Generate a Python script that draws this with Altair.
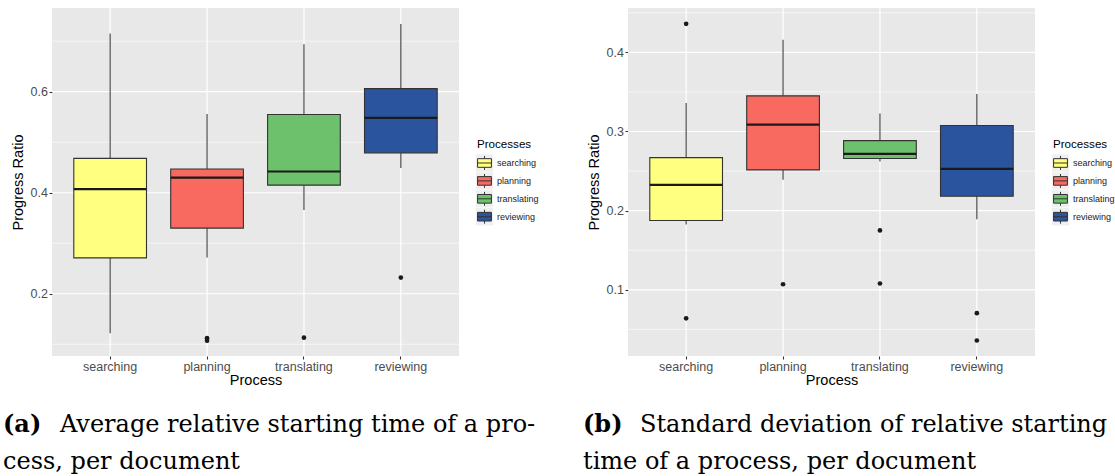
import altair as alt
import pandas as pd

# ---------------- data ----------------
categories = ["searching", "planning", "translating", "reviewing"]
fill_colors = ["#FFFF80", "#F8695F", "#6DC16C", "#2B549F"]

# panel (a): average relative starting time
a_whisker_low = [0.122, 0.272, 0.366, 0.449]
a_q1 = [0.271, 0.330, 0.415, 0.479]
a_median = [0.407, 0.430, 0.442, 0.548]
a_q3 = [0.468, 0.447, 0.555, 0.606]
a_whisker_high = [0.715, 0.556, 0.694, 0.734]
a_outlier_process = ["planning", "planning", "translating", "reviewing"]
a_outlier_value = [0.112, 0.107, 0.113, 0.232]
a_y_limits = [0.0768, 0.7657]
a_major_ticks = [0.2, 0.4, 0.6]
a_minor_ticks = [0.1, 0.3, 0.5, 0.7]

# panel (b): standard deviation of relative starting time
b_whisker_low = [0.1825, 0.239, 0.262, 0.189]
b_q1 = [0.1875, 0.2515, 0.2658, 0.2182]
b_median = [0.2326, 0.3087, 0.2717, 0.2528]
b_q3 = [0.267, 0.345, 0.2885, 0.3075]
b_whisker_high = [0.336, 0.416, 0.3226, 0.3475]
b_outlier_process = ["searching", "searching", "planning", "translating",
                     "translating", "reviewing", "reviewing"]
b_outlier_value = [0.436, 0.064, 0.107, 0.175, 0.108, 0.0705, 0.036]
b_y_limits = [0.0164, 0.456]
b_major_ticks = [0.1, 0.2, 0.3, 0.4]
b_minor_ticks = [0.05, 0.15, 0.25, 0.35, 0.45]

caption_a = ["(a)", "Average relative starting time of a pro-", "cess, per document"]
caption_b = ["(b)", "Standard deviation of relative starting", "time of a process, per document"]

legend_title = "Processes"
x_title = "Process"
y_title = "Progress Ratio"

# ---------------- styling ----------------
W, H = 407, 348
BOX_W = 72.7
SANS = "Liberation Sans"
SERIF = "DejaVu Serif"
KEY_PATH = ("M-0.8,-0.5L0.8,-0.5L0.8,0.5L-0.8,0.5Z M-0.8,0L0.8,0 "
            "M0,-0.5L0,-0.8 M0,0.5L0,0.8")

fill_scale = alt.Scale(domain=categories, range=fill_colors)


def panel(low, q1, med, q3, high, out_p, out_v, limits, major, minor,
          caption, cap_x0, cap_x1, anchor=False):
    boxes = pd.DataFrame(dict(process=categories, low=low, q1=q1,
                              median=med, q3=q3, high=high))
    outliers = pd.DataFrame(dict(process=out_p, value=out_v))
    major_df = pd.DataFrame(dict(v=major))
    minor_df = pd.DataFrame(dict(v=minor))

    yscale = alt.Scale(domain=limits, nice=False, zero=False)
    yaxis = alt.Axis(values=major, format=".1f", grid=False, domain=False,
                     tickColor="#333333", tickSize=3, tickWidth=1.1,
                     labelColor="#4D4D4D", labelFontSize=12.5, labelPadding=1.5,
                     labelFont=SANS, titleFont=SANS, titleFontSize=14.5,
                     titleFontWeight="normal", titleColor="#000000",
                     titlePadding=5)
    xscale = alt.Scale(type="band", domain=categories, paddingInner=0,
                       paddingOuter=0.1)
    xaxis = alt.Axis(labelAngle=0, domain=False, grid=False,
                     tickColor="#333333", tickSize=3, tickWidth=1.1,
                     labelColor="#4D4D4D", labelFontSize=12.5, labelPadding=1,
                     labelFont=SANS, titleFont=SANS, titleFontSize=14.5,
                     titleFontWeight="normal", titleColor="#000000",
                     titlePadding=1)
    X = alt.X("process:N", scale=xscale, axis=xaxis, title=x_title)

    def Y(field):
        return alt.Y(field, type="quantitative", scale=yscale, axis=yaxis,
                     title=y_title)

    fill = alt.Fill("process:N", scale=fill_scale, legend=None)

    minor_grid = alt.Chart(minor_df).mark_rule(color="white", strokeWidth=0.6).encode(y=Y("v"))
    major_grid = alt.Chart(major_df).mark_rule(color="white", strokeWidth=1.2).encode(y=Y("v"))
    vert_grid = alt.Chart(boxes).mark_rule(color="white", strokeWidth=1.2).encode(x=X)
    whisk_lo = alt.Chart(boxes).mark_rule(color="#3A3A3A", strokeWidth=1.1).encode(
        x=X, y=Y("low"), y2="q1:Q")
    whisk_hi = alt.Chart(boxes).mark_rule(color="#3A3A3A", strokeWidth=1.1).encode(
        x=X, y=Y("q3"), y2="high:Q")
    box = alt.Chart(boxes).mark_bar(size=BOX_W, stroke="#333333", strokeWidth=1.1,
                                    opacity=1).encode(x=X, y=Y("q1"), y2="q3:Q", fill=fill)
    med_line = alt.Chart(boxes).mark_tick(size=BOX_W, thickness=2.2, color="#1A1A1A",
                                          opacity=1).encode(x=X, y=Y("median"))
    outl = alt.Chart(outliers).mark_circle(size=22, color="#1A1A1A", opacity=1).encode(
        x=X, y=Y("value"))

    inner = alt.layer(minor_grid, major_grid, vert_grid, whisk_lo, whisk_hi,
                      box, med_line, outl)

    # legend drawn with marks
    legend_df = pd.DataFrame(dict(process=categories))
    ly = alt.Y("process:N", scale=alt.Scale(type="point", domain=categories,
                                            range=[155, 208.7], padding=0),
               axis=None)
    key_bg = alt.Chart(legend_df).mark_square(size=300, color="#EFEFEF", opacity=1).encode(
        x=alt.value(432.5), y=ly)
    key_glyph = alt.Chart(legend_df).mark_point(shape=KEY_PATH, size=300, filled=True,
                                                stroke="#333333", strokeWidth=1,
                                                opacity=1).encode(
        x=alt.value(432.5), y=ly, fill=fill)
    key_label = alt.Chart(legend_df).mark_text(align="left", baseline="middle", fontSize=9,
                                               font=SANS, color="#1A1A1A", limit=42).encode(
        x=alt.value(445), y=ly, text="process:N")
    title_df = pd.DataFrame(dict(t=[legend_title]))
    leg_title = alt.Chart(title_df).mark_text(align="left", baseline="middle", fontSize=11.6,
                                              font=SANS, color="#000000").encode(
        x=alt.value(425), y=alt.value(136.7), text="t:N")

    # caption
    cap1 = pd.DataFrame(dict(t=[caption[0]]))
    cap2 = pd.DataFrame(dict(t=[caption[1]]))
    cap3 = pd.DataFrame(dict(t=[caption[2]]))
    c_bold = alt.Chart(cap1).mark_text(align="left", baseline="alphabetic", fontSize=24,
                                       font=SERIF, fontWeight="bold", color="#000000").encode(
        x=alt.value(cap_x0), y=alt.value(423.7), text="t:N")
    c_l1 = alt.Chart(cap2).mark_text(align="left", baseline="alphabetic", fontSize=24,
                                     font=SERIF, color="#000000").encode(
        x=alt.value(cap_x1), y=alt.value(423.7), text="t:N")
    c_l2 = alt.Chart(cap3).mark_text(align="left", baseline="alphabetic", fontSize=24,
                                     font=SERIF, color="#000000").encode(
        x=alt.value(cap_x0), y=alt.value(460.7), text="t:N")

    layers = [inner, key_bg, key_glyph, key_label, leg_title, c_bold, c_l1, c_l2]
    if anchor:
        anc = alt.Chart(pd.DataFrame(dict(a=[0]))).mark_rect(opacity=0).encode(
            x=alt.value(-52), x2=alt.value(1063), y=alt.value(-7.3), y2=alt.value(468.7))
        layers.append(anc)
    return alt.layer(*layers).resolve_scale(y="independent").properties(width=W, height=H)


left = panel(a_whisker_low, a_q1, a_median, a_q3, a_whisker_high,
             a_outlier_process, a_outlier_value, a_y_limits, a_major_ticks,
             a_minor_ticks, caption_a, -49, 8, anchor=True)
right = panel(b_whisker_low, b_q1, b_median, b_q3, b_whisker_high,
              b_outlier_process, b_outlier_value, b_y_limits, b_major_ticks,
              b_minor_ticks, caption_b, -45, 12)

chart = alt.hconcat(left, right, spacing=169, bounds="flush").properties(
    padding=0, background="white"
).configure_view(fill="#E8E8E8", stroke=None)

chart.save("out.html", embed_options={"renderer": "svg", "actions": False})
